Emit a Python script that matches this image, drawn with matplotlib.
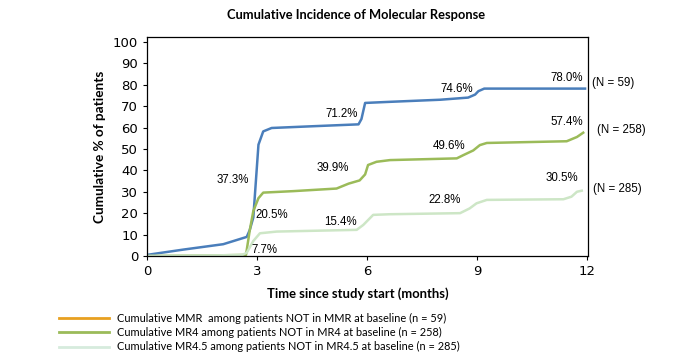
import numpy as np
import matplotlib
matplotlib.use('Agg')
import matplotlib.pyplot as plt
from matplotlib.lines import Line2D

# curves (months, cumulative %)
mmr_x = [0, 1.0, 2.08, 2.72, 2.8, 2.9, 2.97, 3.04, 3.17, 3.4, 4.5, 5.77, 5.85, 5.95, 6.6, 8.0, 8.76, 8.95, 9.04, 9.2, 11.95]
mmr_y = [0.5, 3.0, 5.5, 8.9, 12, 18, 35, 52, 58.2, 59.8, 60.6, 61.5, 64, 71.5, 72.0, 73.0, 74.0, 75.4, 77.0, 78.2, 78.2]

mr4_x = [0, 2.0, 2.7, 2.8, 2.9, 3.04, 3.17, 4.0, 5.17, 5.5, 5.8, 5.95, 6.03, 6.26, 6.63, 8.45, 8.64, 8.9, 9.08, 9.27, 11.45, 11.73, 11.9]
mr4_y = [0, 0.3, 0.5, 11.7, 21, 27, 29.6, 30.3, 31.5, 33.8, 35.3, 38.1, 42.5, 44.0, 44.8, 45.6, 47.2, 49.3, 51.8, 52.8, 53.6, 55.6, 57.6]

mr45_x = [0, 2.0, 2.6, 2.72, 2.9, 3.08, 3.54, 5.72, 5.9, 6.17, 6.63, 8.54, 8.8, 8.99, 9.27, 11.36, 11.58, 11.73, 11.86]
mr45_y = [0, 0.3, 0.5, 1.5, 7, 10.6, 11.4, 12.2, 14.5, 19.2, 19.5, 20.0, 22.2, 24.6, 26.2, 26.5, 27.7, 30.0, 30.5]

series_colors = ['#4A7EBB', '#9BBB59', '#CDE6C6']
legend_colors = ['#E8A020', '#9BBB59', '#D6EBDD']
legend_labels = ['Cumulative MMR  among patients NOT in MMR at baseline (n = 59)',
                 'Cumulative MR4 among patients NOT in MR4 at baseline (n = 258)',
                 'Cumulative MR4.5 among patients NOT in MR4.5 at baseline (n = 285)']

# percentage labels: (text, x, y)
pct_labels = [('37.3%', 2.34, 35.5), ('71.2%', 5.32, 66.3), ('74.6%', 8.45, 77.9), ('78.0%', 11.45, 83.1),
              ('20.5%', 3.41, 19.1), ('39.9%', 5.07, 41.1), ('49.6%', 8.24, 51.3), ('57.4%', 11.45, 62.5),
              ('7.7%', 3.19, 2.8), ('15.4%', 5.29, 15.9), ('22.8%', 8.13, 26.1), ('30.5%', 11.32, 36.4)]
n_labels = [('(N = 59)', 12.71, 80.7), ('(N = 258)', 12.93, 58.8), ('(N = 285)', 12.82, 31.3)]

xticks = [0, 3, 6, 9, 12]
yticks = list(range(0, 101, 10))

fig = plt.figure(figsize=(6.81, 3.56), dpi=100)
ax = fig.add_axes([0.2159, 0.281, 0.6475, 0.615])

for xs, ys, c in zip([mmr_x, mr4_x, mr45_x], [mmr_y, mr4_y, mr45_y], series_colors):
    ax.plot(xs, ys, color=c, lw=1.8, solid_joinstyle='round')

ax.set_xlim(0, 12.03)
ax.set_ylim(0, 102.3)
ax.set_xticks(xticks)
ax.set_yticks(yticks)
ax.tick_params(axis='both', labelsize=9.5, length=3, width=0.8, direction='out')
for sp in ax.spines.values():
    sp.set_linewidth(0.9)

for t, x, y in pct_labels:
    ax.text(x, y, t, ha='center', va='center', fontsize=8.3, family='Liberation Sans')
for t, x, y in n_labels:
    ax.text(x, y, t, ha='center', va='center', fontsize=8.3, family='Liberation Sans', clip_on=False)

fig.text(0.523, 0.958, 'Cumulative Incidence of Molecular Response', ha='center', va='center',
         fontsize=9.3, fontweight='bold', family='Lato')
ax.set_ylabel('Cumulative % of patients', fontsize=9.8, fontweight='bold', family='Lato', labelpad=5)
fig.text(0.525, 0.175, 'Time since study start (months)', ha='center', va='center',
         fontsize=9.4, fontweight='bold', family='Lato')

handles = [Line2D([], [], color=c, lw=2) for c in legend_colors]
leg = fig.legend(handles, legend_labels, loc='upper left', bbox_to_anchor=(0.078, 0.137),
                 frameon=False, handlelength=4.6, handletextpad=0.75, labelspacing=0.3,
                 borderpad=0, prop={'family': 'Lato', 'size': 7.9})

fig.savefig('out.png', dpi=100)
